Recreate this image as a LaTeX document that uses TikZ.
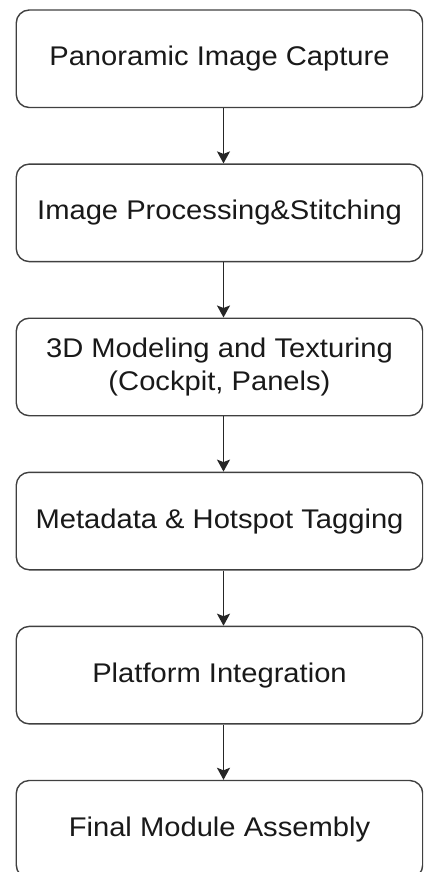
\documentclass[tikz,border=0pt]{standalone}
\usepackage{fontspec}
\setmainfont[FakeStretch=1.08]{Liberation Sans}
\usetikzlibrary{arrows.meta,calc}
\tikzset{
  stepbox/.style={draw=black!75, line width=1.4pt, rounded corners=13pt,
    minimum width=406.5pt, minimum height=97.5pt, align=center,
    font=\fontsize{27}{33}\selectfont, text=black!90, inner sep=0pt},
  flowarrow/.style={draw=black!85, line width=1.6pt,
    -{Stealth[length=12pt,width=13pt,inset=2.5pt]}}
}
\begin{document}
\begin{tikzpicture}[x=1pt,y=-1pt]
\useasboundingbox (0,0) rectangle (423,872);
\clip (0,0) rectangle (423,872);
\node[stepbox] (b1) at (219.5,58.75)  {Panoramic Image Capture};
\node[stepbox] (b2) at (219.5,212.85) {Image Processing\&Stitching};
\node[stepbox] (b3) at (219.5,366.95) {3D Modeling and Texturing\\(Cockpit, Panels)};
\node[stepbox] (b4) at (219.5,521.05) {Metadata \& Hotspot Tagging};
\node[stepbox] (b5) at (219.5,675.15) {Platform Integration};
\node[stepbox] (b6) at (219.5,829.25) {Final Module Assembly};
\foreach \a/\b in {b1/b2,b2/b3,b3/b4,b4/b5,b5/b6}
  \draw[flowarrow] ($(\a.south)+(4,0)$) -- ($(\b.north)+(4,0)$);
\end{tikzpicture}
\end{document}
